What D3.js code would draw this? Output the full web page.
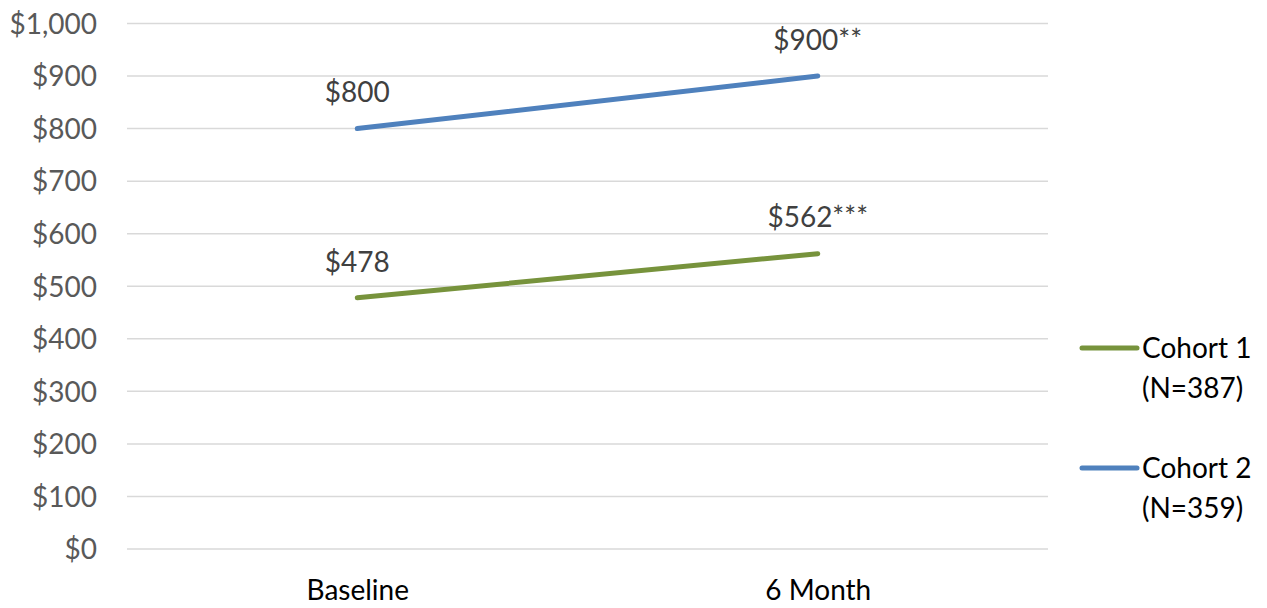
<!DOCTYPE html>
<html>
<head>
<meta charset="utf-8">
<script src="https://cdn.jsdelivr.net/npm/d3@7/dist/d3.min.js"></script>
<style>
  html, body { margin: 0; padding: 0; background: #fff; }
  svg { display: block; font-family: Lato, "Open Sans", sans-serif; }
</style>
</head>
<body>
<svg id="chart" width="1267" height="608"></svg>
<script>
// Time points and monthly amounts per cohort
const categories = ["Baseline", "6 Month"];
const cohort1 = [478, 562];
const cohort2 = [800, 900];
const cohort1Labels = ["$478", "$562***"];
const cohort2Labels = ["$800", "$900**"];
const yTicks = [0, 100, 200, 300, 400, 500, 600, 700, 800, 900, 1000];
const seriesNames = [["Cohort 1", "(N=387)"], ["Cohort 2", "(N=359)"]];

const series = [
  { values: cohort1, labels: cohort1Labels, name: seriesNames[0], color: "#77933C" },
  { values: cohort2, labels: cohort2Labels, name: seriesNames[1], color: "#4F81BD" }
];

const svg = d3.select("#chart");
const plot = { left: 127, right: 1048, top: 23.5, bottom: 549 };

const x = d3.scalePoint()
  .domain(categories)
  .range([plot.left, plot.right])
  .padding(0.5);

const y = d3.scaleLinear()
  .domain([0, 1000])
  .range([plot.bottom, plot.top]);

// Horizontal gridlines
svg.append("g")
  .selectAll("line")
  .data(yTicks)
  .join("line")
  .attr("x1", plot.left)
  .attr("x2", plot.right)
  .attr("y1", d => y(d))
  .attr("y2", d => y(d))
  .attr("stroke", "#D9D9D9")
  .attr("stroke-width", 1.5);

// Y axis labels
const yAxis = d3.axisLeft(y)
  .tickValues(yTicks)
  .tickSize(0)
  .tickPadding(0)
  .tickFormat(d => "$" + d3.format(",")(d));

svg.append("g")
  .attr("transform", `translate(${plot.left - 30},0)`)
  .call(yAxis)
  .call(g => g.select(".domain").remove())
  .call(g => g.selectAll("text")
    .attr("fill", "#595959")
    .style("font-size", "28px")
    .style("font-family", "Lato, 'Open Sans', sans-serif")
    .attr("dy", "0.35em"));

// X axis labels
const xAxis = d3.axisBottom(x).tickSize(0).tickPadding(0);
svg.append("g")
  .attr("transform", `translate(0,${plot.bottom + 41})`)
  .call(xAxis)
  .call(g => g.select(".domain").remove())
  .call(g => g.selectAll("text")
    .attr("fill", "#000")
    .style("font-size", "28px")
    .style("font-family", "Lato, 'Open Sans', sans-serif")
    .attr("dy", "0.35em"));

// Lines
const line = d3.line()
  .x((d, i) => x(categories[i]))
  .y(d => y(d));

svg.append("g")
  .selectAll("path")
  .data(series)
  .join("path")
  .attr("d", s => line(s.values))
  .attr("fill", "none")
  .attr("stroke", s => s.color)
  .attr("stroke-width", 5)
  .attr("stroke-linecap", "round");

// Value labels above each point
series.forEach(s => {
  svg.append("g")
    .selectAll("text")
    .data(s.values)
    .join("text")
    .attr("x", (d, i) => x(categories[i]))
    .attr("y", d => y(d) - 36)
    .attr("dy", "0.35em")
    .attr("text-anchor", "middle")
    .attr("fill", "#404040")
    .style("font-size", "28px")
    .text((d, i) => s.labels[i]);
});

// Legend
const legend = svg.append("g").attr("transform", "translate(1082,0)");
const legendRows = [348, 468];
series.forEach((s, i) => {
  const g = legend.append("g").attr("transform", `translate(0,${legendRows[i]})`);
  g.append("line")
    .attr("x1", 0).attr("x2", 55)
    .attr("y1", 0).attr("y2", 0)
    .attr("stroke", s.color)
    .attr("stroke-width", 5)
    .attr("stroke-linecap", "round");
  g.append("text")
    .attr("x", 60)
    .attr("y", 0)
    .attr("dy", "0.35em")
    .attr("fill", "#000")
    .style("font-size", "28px")
    .text(s.name[0]);
  g.append("text")
    .attr("x", 60)
    .attr("y", 40)
    .attr("dy", "0.35em")
    .attr("fill", "#000")
    .style("font-size", "28px")
    .text(s.name[1]);
});
</script>
</body>
</html>
